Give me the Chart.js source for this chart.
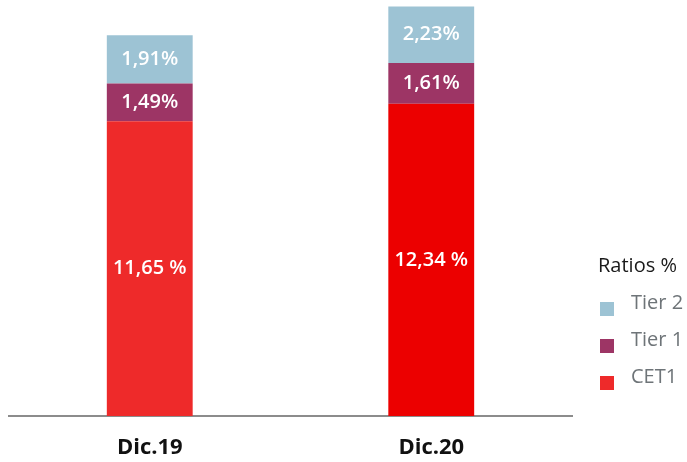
<!DOCTYPE html>
<html>
<head>
<meta charset="utf-8">
<script src="https://cdn.jsdelivr.net/npm/chart.js@4/dist/chart.umd.min.js"></script>
<style>
  html, body { margin: 0; padding: 0; background: #ffffff; }
  #wrap { width: 687px; height: 462px; position: relative; }
</style>
</head>
<body>
<div id="wrap"><canvas id="c"></canvas></div>
<script>
const categories = ['Dic.19', 'Dic.20'];
const cet1 = [11.65, 12.34];
const tier1 = [1.49, 1.61];
const tier2 = [1.91, 2.23];
const seriesNames = ['CET1', 'Tier 1', 'Tier 2'];
const legendTitle = 'Ratios %';
const labelSuffixes = [' %', '%', '%'];

const FONT = "'Open Sans', 'Noto Sans', sans-serif";

function fmt(v, suffix) {
  return v.toFixed(2).replace('.', ',') + suffix;
}

const barLabels = {
  id: 'barLabels',
  afterDatasetsDraw(chart) {
    const ctx = chart.ctx;
    ctx.save();
    ctx.fillStyle = '#ffffff';
    ctx.font = '600 20px ' + FONT;
    ctx.textAlign = 'center';
    ctx.textBaseline = 'middle';
    chart.data.datasets.forEach((ds, di) => {
      const meta = chart.getDatasetMeta(di);
      meta.data.forEach((el, i) => {
        const p = el.getProps(['x', 'y', 'base'], true);
        ctx.fillText(fmt(ds.data[i], labelSuffixes[di]), p.x, (p.y + p.base) / 2);
      });
    });
    ctx.restore();
  }
};

const sideLegend = {
  id: 'sideLegend',
  afterDraw(chart) {
    const ctx = chart.ctx;
    const x0 = chart.chartArea.right + 26;
    ctx.save();
    ctx.textAlign = 'left';
    ctx.textBaseline = 'middle';
    ctx.font = '400 20px ' + FONT;
    ctx.fillStyle = '#1a1a1a';
    ctx.fillText(legendTitle, x0, 266);
    const order = [2, 1, 0];
    order.forEach((di, k) => {
      const ds = chart.data.datasets[di];
      const col = Array.isArray(ds.backgroundColor) ? ds.backgroundColor[0] : ds.backgroundColor;
      const cy = 303 + k * 37;
      ctx.fillStyle = col;
      ctx.fillRect(x0 + 2, cy - 1, 14, 14);
      ctx.fillStyle = '#6e7478';
      ctx.fillText(ds.label, x0 + 33, cy);
    });
    ctx.restore();
  }
};

new Chart(document.getElementById('c'), {
  type: 'bar',
  data: {
    labels: categories,
    datasets: [
      { label: seriesNames[0], data: cet1, backgroundColor: ['#EE2A2A', '#EC0000'] },
      { label: seriesNames[1], data: tier1, backgroundColor: '#9D3565' },
      { label: seriesNames[2], data: tier2, backgroundColor: '#9DC3D4' }
    ]
  },
  options: {
    responsive: true,
    maintainAspectRatio: false,
    animation: false,
    layout: { padding: { left: 9, right: 115, top: 0, bottom: 0 } },
    datasets: { bar: { categoryPercentage: 1, barPercentage: 0.305, borderWidth: 0 } },
    plugins: {
      legend: { display: false },
      tooltip: { enabled: false }
    },
    scales: {
      x: {
        stacked: true,
        grid: { display: false, drawTicks: false },
        border: { display: true, color: '#8c8c8c', width: 2 },
        ticks: { color: '#111111', font: { family: FONT, size: 22, weight: '700' }, padding: 19 },
        afterFit(scale) { scale.height = 46; }
      },
      y: {
        stacked: true,
        display: false,
        min: 0,
        max: 16.44
      }
    }
  },
  plugins: [barLabels, sideLegend]
});
</script>
</body>
</html>
